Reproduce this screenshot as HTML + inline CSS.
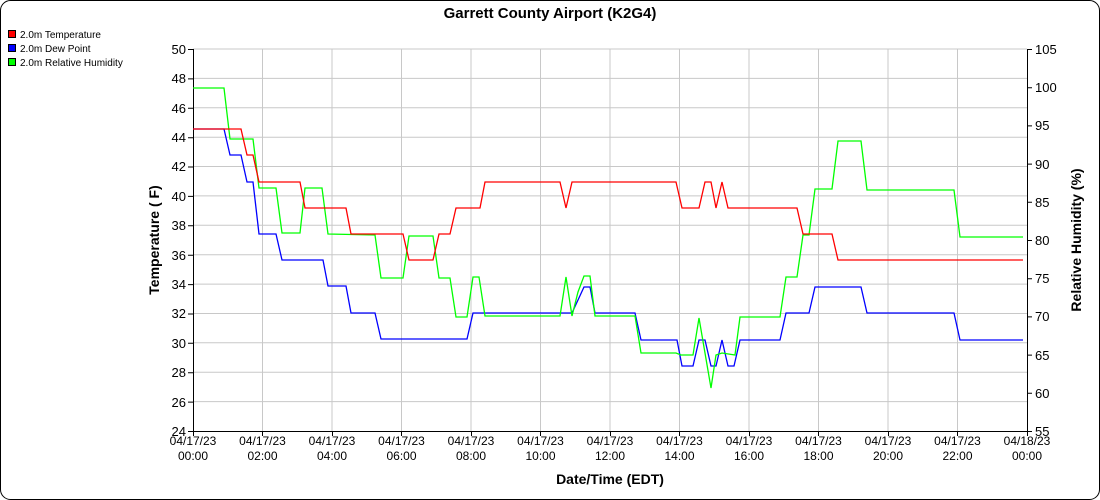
<!DOCTYPE html>
<html><head><meta charset="utf-8"><style>
html,body{margin:0;padding:0;background:#fff;}
svg{display:block;font-family:"Liberation Sans",Arial,sans-serif;}
</style></head><body>
<svg width="1100" height="500" viewBox="0 0 1100 500" xmlns="http://www.w3.org/2000/svg">
<rect x="0.5" y="0.5" width="1099" height="499" rx="10" ry="10" fill="#fff" stroke="#000"/>
<text x="550" y="18" text-anchor="middle" font-size="15" font-weight="bold">Garrett County Airport (K2G4)</text>
<g font-size="10">
<rect x="8.5" y="30.5" width="7" height="7" fill="#f00" stroke="#000"/><text x="20" y="38">2.0m Temperature</text>
<rect x="8.5" y="44.5" width="7" height="7" fill="#00f" stroke="#000"/><text x="20" y="52">2.0m Dew Point</text>
<rect x="8.5" y="58.5" width="7" height="7" fill="#0f0" stroke="#000"/><text x="20" y="66">2.0m Relative Humidity</text>
</g>
<g id="grid" stroke="#c8c8c8" stroke-width="1">
<line x1="193" x2="1027" y1="78.4" y2="78.4"/><line x1="193" x2="1027" y1="107.8" y2="107.8"/><line x1="193" x2="1027" y1="137.2" y2="137.2"/><line x1="193" x2="1027" y1="166.5" y2="166.5"/><line x1="193" x2="1027" y1="195.9" y2="195.9"/><line x1="193" x2="1027" y1="225.3" y2="225.3"/><line x1="193" x2="1027" y1="254.7" y2="254.7"/><line x1="193" x2="1027" y1="284.1" y2="284.1"/><line x1="193" x2="1027" y1="313.5" y2="313.5"/><line x1="193" x2="1027" y1="342.8" y2="342.8"/><line x1="193" x2="1027" y1="372.2" y2="372.2"/><line x1="193" x2="1027" y1="401.6" y2="401.6"/>
<line x1="193" x2="1027" y1="49" y2="49"/>
<line y1="49" y2="431" x1="262.5" x2="262.5"/><line y1="49" y2="431" x1="332" x2="332"/><line y1="49" y2="431" x1="401.5" x2="401.5"/><line y1="49" y2="431" x1="471" x2="471"/><line y1="49" y2="431" x1="540.5" x2="540.5"/><line y1="49" y2="431" x1="610" x2="610"/><line y1="49" y2="431" x1="679.5" x2="679.5"/><line y1="49" y2="431" x1="749" x2="749"/><line y1="49" y2="431" x1="818.5" x2="818.5"/><line y1="49" y2="431" x1="888" x2="888"/><line y1="49" y2="431" x1="957.5" x2="957.5"/>
</g>
<g stroke="#000" stroke-width="1">
<line x1="193.5" y1="49" x2="193.5" y2="436"/><line x1="1027.5" y1="49" x2="1027.5" y2="436"/><line x1="193" y1="431.5" x2="1027" y2="431.5"/>
</g>
<g font-size="13" text-anchor="end">
<text x="186" y="54">50</text><text x="186" y="83">48</text><text x="186" y="113">46</text><text x="186" y="142">44</text><text x="186" y="171">42</text><text x="186" y="201">40</text><text x="186" y="230">38</text><text x="186" y="260">36</text><text x="186" y="289">34</text><text x="186" y="318">32</text><text x="186" y="348">30</text><text x="186" y="377">28</text><text x="186" y="407">26</text><text x="186" y="436">24</text>
</g>
<g stroke="#000"><path d="M188 49.5h5M188 78.9h5M188 108.3h5M188 137.7h5M188 167h5M188 196.4h5M188 225.8h5M188 255.2h5M188 284.6h5M188 314h5M188 343.3h5M188 372.7h5M188 402.1h5M188 431.5h5"/>
<path d="M1027 49.5h5M1027 87.7h5M1027 125.9h5M1027 164.1h5M1027 202.3h5M1027 240.5h5M1027 278.7h5M1027 316.9h5M1027 355.1h5M1027 393.3h5M1027 431.5h5"/>
<path d="M193.5 431v5M262.5 431v5M332.5 431v5M401.5 431v5M471.5 431v5M540.5 431v5M610.5 431v5M679.5 431v5M749.5 431v5M818.5 431v5M888.5 431v5M957.5 431v5M1027.5 431v5"/></g>
<g font-size="13">
<text x="1035" y="54">105</text><text x="1035" y="92">100</text><text x="1035" y="130">95</text><text x="1035" y="169">90</text><text x="1035" y="207">85</text><text x="1035" y="245">80</text><text x="1035" y="283">75</text><text x="1035" y="321">70</text><text x="1035" y="360">65</text><text x="1035" y="398">60</text><text x="1035" y="436">55</text>
</g>
<g font-size="12" text-anchor="middle">
<text x="193" y="445">04/17/23</text><text x="193" y="460">00:00</text>
<text x="262.5" y="445">04/17/23</text><text x="262.5" y="460">02:00</text>
<text x="332" y="445">04/17/23</text><text x="332" y="460">04:00</text>
<text x="401.5" y="445">04/17/23</text><text x="401.5" y="460">06:00</text>
<text x="471" y="445">04/17/23</text><text x="471" y="460">08:00</text>
<text x="540.5" y="445">04/17/23</text><text x="540.5" y="460">10:00</text>
<text x="610" y="445">04/17/23</text><text x="610" y="460">12:00</text>
<text x="679.5" y="445">04/17/23</text><text x="679.5" y="460">14:00</text>
<text x="749" y="445">04/17/23</text><text x="749" y="460">16:00</text>
<text x="818.5" y="445">04/17/23</text><text x="818.5" y="460">18:00</text>
<text x="888" y="445">04/17/23</text><text x="888" y="460">20:00</text>
<text x="957.5" y="445">04/17/23</text><text x="957.5" y="460">22:00</text>
<text x="1027" y="445">04/18/23</text><text x="1027" y="460">00:00</text>
</g>
<text x="610" y="484" text-anchor="middle" font-size="14" font-weight="bold">Date/Time (EDT)</text>
<text transform="translate(159,240) rotate(-90)" text-anchor="middle" font-size="14" font-weight="bold">Temperature ( F)</text>
<text transform="translate(1081,240) rotate(-90)" text-anchor="middle" font-size="14" font-weight="bold">Relative Humidity (%)</text>
<g fill="none" stroke-width="1.3">
<polyline stroke="#00f" points="193,129 224,129 230,155 241,155 247,182 253,182 259,234 276,234 282,260 323,260 328,286 346,286 351,313 375,313 381,339 467,339 473,313 572,313 584,287 590,287 595,313 635,313 641,340 677,340 682,366 693,366 699,340 705,340 711,366 716,366 722,340 728,366 734,366 740,340 780,340 786,313 809,313 815,287 861,287 867,313 954,313 960,340 1023,340"/>
<polyline stroke="#0f0" points="193,88 224,88 230,139 253,139 259,188 276,188 282,233 300,233 305,188 322,188 328,234 375,235 381,278 403,278 409,236 433,236 439,278 450,278 456,317 467,317 473,277 479,277 485,316 560,316 566,277 572,316 578,292 584,276 590,276 595,316 635,316 641,353 676,353 681,355 693,355 699,318 711,388 716,355 722,353 735,355 740,317 780,317 786,277 797,277 803,235 809,235 815,189 832,189 838,141 861,141 867,190 954,190 960,237 1023,237"/>
<polyline stroke="#f00" points="193,129 241,129 247,155 253,155 259,182 300,182 305,208 346,208 351,234 403,234 409,260 433,260 439,234 450,234 456,208 480,208 485,182 560,182 566,208 572,182 676,182 682,208 699,208 705,182 711,182 716,208 722,182 728,208 797,208 803,234 832,234 838,260 1023,260"/>
</g>
</svg>
</body></html>
